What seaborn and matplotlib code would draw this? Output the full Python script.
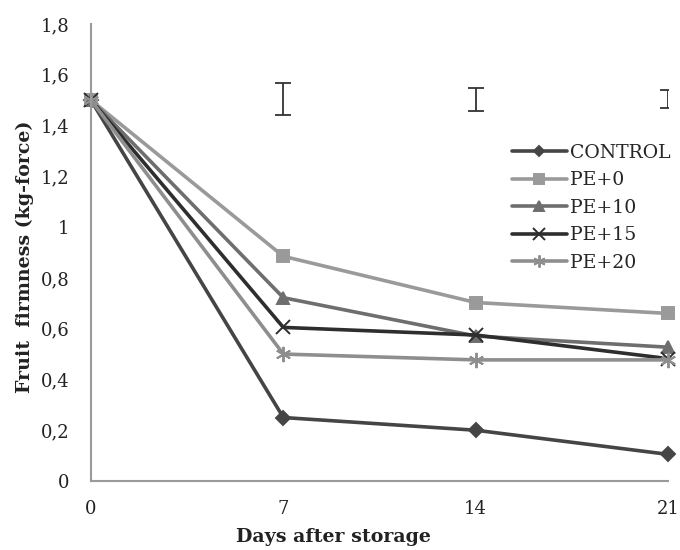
import numpy as np
import pandas as pd
import matplotlib
matplotlib.use("Agg")
import matplotlib.pyplot as plt
import seaborn as sns

days = [0, 7, 14, 21]
series_names = ["CONTROL", "PE+0", "PE+10", "PE+15", "PE+20"]
control = [1.50, 0.25, 0.20, 0.105]
pe0 = [1.50, 0.885, 0.703, 0.66]
pe10 = [1.50, 0.722, 0.571, 0.527]
pe15 = [1.50, 0.605, 0.575, 0.482]
pe20 = [1.50, 0.50, 0.477, 0.477]

err_days = [7, 14, 21]
err_low = [1.442, 1.458, 1.47]
err_high = [1.568, 1.549, 1.54]

yticks = [0, 0.2, 0.4, 0.6, 0.8, 1.0, 1.2, 1.4, 1.6, 1.8]
ytick_labels = ["0", "0,2", "0,4", "0,6", "0,8", "1", "1,2", "1,4", "1,6", "1,8"]

colors = {"CONTROL": "#454545", "PE+0": "#9a9a9a", "PE+10": "#6e6e6e",
          "PE+15": "#2e2e2e", "PE+20": "#8e8e8e"}
markers = {"CONTROL": "D", "PE+0": "s", "PE+10": "^", "PE+15": "x", "PE+20": (6, 2, 0)}
msizes = {"CONTROL": 7, "PE+0": 9, "PE+10": 9, "PE+15": 10, "PE+20": 11}

sns.set_style("white")
plt.rcParams["font.family"] = ["DejaVu Serif"]

values = [control, pe0, pe10, pe15, pe20]
df = pd.DataFrame({
    "day": np.tile(days, len(series_names)),
    "value": np.concatenate(values),
    "series": np.repeat(series_names, len(days)),
})

fig = plt.figure(figsize=(6.8, 5.5), dpi=100)
ax = fig.add_axes([91 / 680, 1 - 481 / 550, (668 - 91) / 680, (481 - 24) / 550])

for name in series_names:
    sub = df[df["series"] == name]
    sns.lineplot(data=sub, x="day", y="value", ax=ax, color=colors[name],
                 marker=markers[name], markersize=msizes[name], linewidth=2.6,
                 markeredgecolor=colors[name], markerfacecolor=colors[name],
                 markeredgewidth=1.4, label=name, clip_on=False)

lo = np.array(err_low)
hi = np.array(err_high)
mid = (lo + hi) / 2
ax.errorbar(err_days, mid, yerr=[mid - lo, hi - mid], fmt="none", ecolor="#333333",
            elinewidth=1.3, capsize=6, capthick=1.3, clip_on=True)

ax.set_xlim(0, 21)
ax.set_ylim(0, 1.8)
ax.set_xticks(days)
ax.set_xticklabels([str(d) for d in days], fontsize=13)
ax.set_yticks(yticks)
ax.set_yticklabels(ytick_labels, fontsize=13)

for s in ["top", "right"]:
    ax.spines[s].set_visible(False)
for s in ["left", "bottom"]:
    ax.spines[s].set_color("#9a9a9a")
    ax.spines[s].set_linewidth(1.5)
ax.tick_params(axis="both", which="both", direction="out", length=5.5, width=1.2,
               color="#9a9a9a", labelcolor="#222222")
ax.tick_params(axis="x", pad=8.5)
ax.tick_params(axis="y", pad=10)

ax.set_xlabel("Days after storage", fontsize=13.7, fontweight="bold", color="#222222")
ax.xaxis.set_label_coords((333 - 91) / (668 - 91), -0.103)
ax.set_ylabel("Fruit  firmness (kg-force)", fontsize=13.7, fontweight="bold", color="#222222")
ax.yaxis.set_label_coords((34 - 91) / (668 - 91), 0.49)

leg = ax.legend(loc="upper left", bbox_to_anchor=((512 - 91) / (668 - 91), (481 - 144) / (481 - 24)),
                frameon=False, fontsize=13.6, handlelength=2.9, handletextpad=0.15,
                labelspacing=0.5, borderaxespad=0, borderpad=0, markerscale=0.8)

fig.savefig("out.png", dpi=100)
